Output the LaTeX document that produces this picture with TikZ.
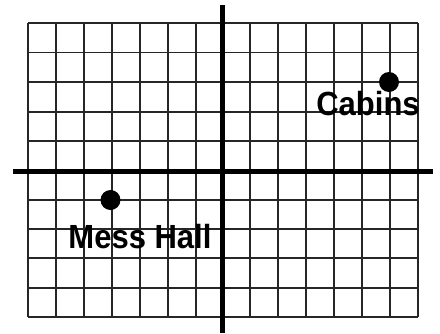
\documentclass[tikz,border=0pt]{standalone}
\usepackage{fontspec}
\usepackage{graphicx}
\setmainfont{Liberation Sans}
\newcommand{\tallbold}[1]{\scalebox{1}[1.08]{#1}}
\begin{document}
\begin{tikzpicture}[x=1pt,y=-1pt,
  gridline/.style={line width=1.8pt,black!85},
  axisline/.style={line width=5pt,black},
  dot/.style={circle,fill=black,inner sep=0pt,minimum size=20pt},
  lbl/.style={anchor=base,inner sep=0pt,font=\fontsize{31}{31}\selectfont\bfseries}]
\useasboundingbox (0,0) rectangle (440,333);
% vertical grid lines
\foreach \x in {28,56,84,112,140,168,196,250,278,306,334,362,390,418}
  \draw[gridline] (\x,23) -- (\x,317);
% horizontal grid lines
\foreach \y in {23,52.5,82,112,141,200,229,258,288,317}
  \draw[gridline] (28,\y) -- (418,\y);
% axes
\draw[axisline] (222,5) -- (222,333);
\draw[axisline] (13,171) -- (433,171);
% points
\node[dot] (cabinsdot) at (389,82) {};
\node[dot] (messdot) at (110.5,200) {};
\node[lbl] (cabins) at (368,115) {\tallbold{Cabins}};
\node[lbl] (mess) at (140,248) {\tallbold{Mess Hall}};
\end{tikzpicture}
\end{document}
